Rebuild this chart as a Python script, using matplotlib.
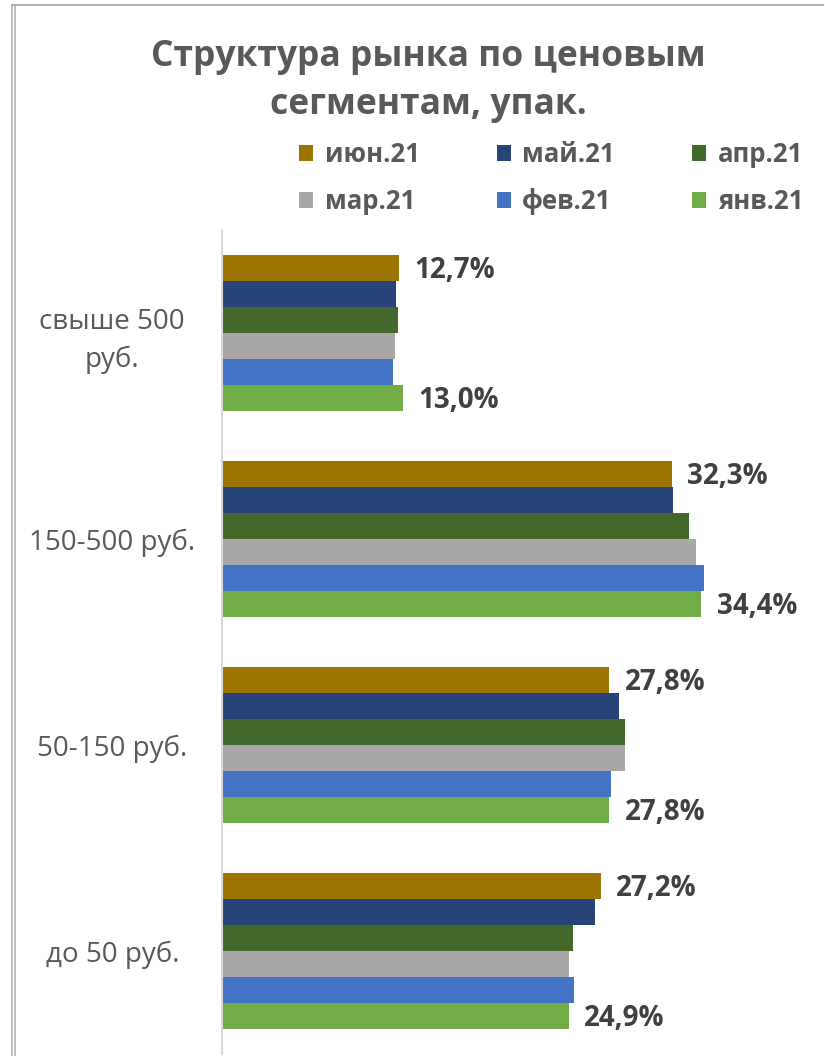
import numpy as np
import matplotlib.pyplot as plt
from matplotlib.lines import Line2D

plt.rcParams['font.family'] = ['Open Sans', 'DejaVu Sans']

# данные
categories = ['до 50 руб.', '50-150 руб.', '150-500 руб.', 'свыше 500\nруб.']
months = ['июн.21', 'май.21', 'апр.21', 'мар.21', 'фев.21', 'янв.21']
colors = ['#9C7500', '#264478', '#43682B', '#A9A7A5', '#4472C4', '#70AD47']

jun21 = [27.2, 27.8, 32.3, 12.7]
may21 = [26.8, 28.5, 32.4, 12.5]
apr21 = [25.2, 28.9, 33.5, 12.6]
mar21 = [24.9, 28.9, 34.0, 12.4]
feb21 = [25.3, 27.9, 34.6, 12.3]
jan21 = [24.9, 27.8, 34.4, 13.0]
series = [jun21, may21, apr21, mar21, feb21, jan21]

grey = '#595959'
label_grey = '#404040'

fig = plt.figure(figsize=(8.25, 10.56), dpi=100)
ax = fig.add_axes([222/825, 2/1056, 599/825, 824/1056])

y = np.arange(len(categories))
h = 0.126
for k, (vals, name, col) in enumerate(zip(series, months, colors)):
    pos = y + (2.5 - k) * h
    ax.barh(pos, vals, height=h, color=col, label=name)
    # подписи только у крайних рядов
    if k in (0, 5):
        for p, v in zip(pos, vals):
            ax.text(v + 1.1, p - 0.012, f'{v:.1f}%'.replace('.', ','), va='center', ha='left',
                    fontsize=20, fontweight='bold', color=label_grey)

ax.set_ylim(-0.5, 3.5)
ax.set_xlim(0, 43)
ax.set_yticks(y)
ax.set_yticklabels(categories, fontsize=20, color=grey, ha='center', linespacing=1.45)
ax.tick_params(axis='y', length=0, pad=79)
ax.set_xticks([])
for s in ['top', 'right', 'bottom']:
    ax.spines[s].set_visible(False)
ax.spines['left'].set_color('#D9D9D9')
ax.spines['left'].set_linewidth(1.5)

fig.text(428/825, 1 - 57/1056, 'Структура рынка по ценовым', ha='center', va='center',
         fontsize=25.5, fontweight='bold', color=grey)
fig.text(428/825, 1 - 105/1056, 'сегментам, упак.', ha='center', va='center',
         fontsize=25.5, fontweight='bold', color=grey)

handles, labels = ax.get_legend_handles_labels()
order = [0, 3, 1, 4, 2, 5]
leg = fig.legend([handles[i] for i in order], [labels[i] for i in order],
                 ncol=3, loc='center', bbox_to_anchor=(551/825, 1 - 178/1056),
                 frameon=False, handlelength=0.55, handleheight=0.55, handletextpad=0.45,
                 columnspacing=3.0, labelspacing=0.78,
                 prop={'size': 18.5, 'weight': 'bold'})
for t in leg.get_texts():
    t.set_color(grey)

# рамка слева и сверху
for x in (12, 15):
    fig.add_artist(Line2D([x/825, x/825], [0, 1 - 5/1056], color='#B4B4B4', lw=1.2,
                          transform=fig.transFigure))
fig.add_artist(Line2D([12/825, 823/825], [1 - 5/1056, 1 - 5/1056], color='#B4B4B4', lw=1.5,
                      transform=fig.transFigure))

fig.savefig('out.png', dpi=100)
